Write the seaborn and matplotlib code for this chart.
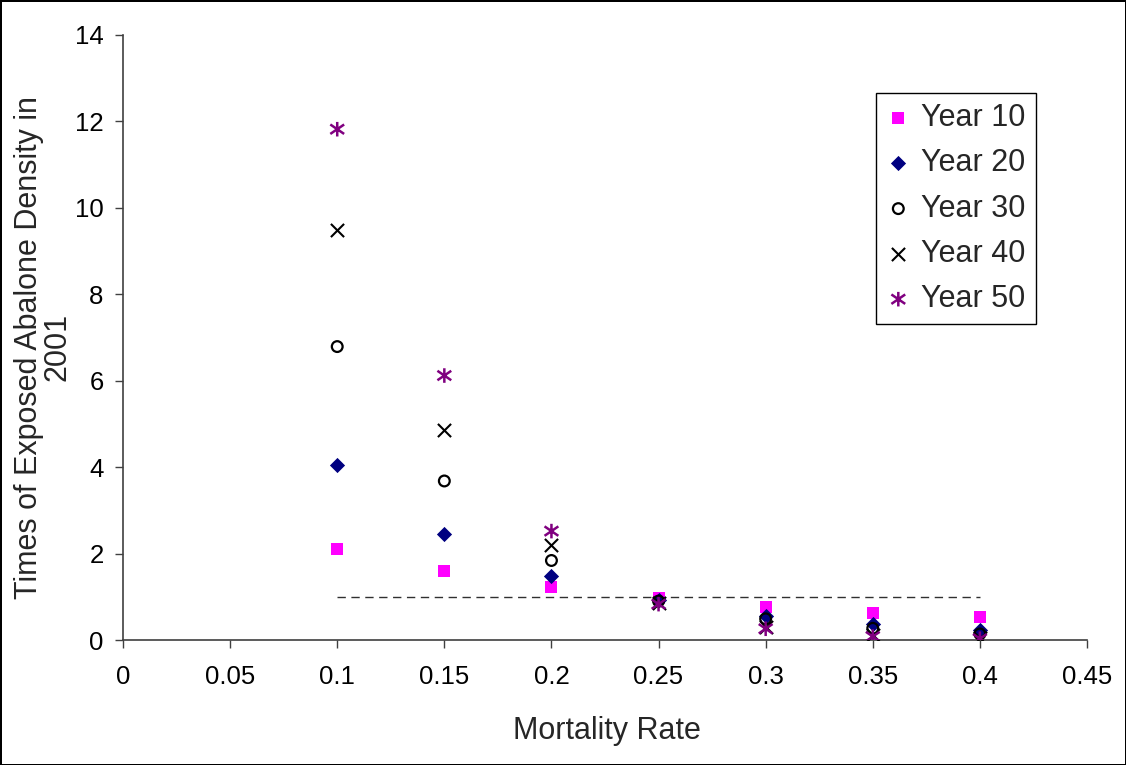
import matplotlib
matplotlib.use("Agg")
import matplotlib.pyplot as plt
from matplotlib.path import Path
import seaborn as sns

# Mortality rates on the x axis
mortality = [0.1, 0.15, 0.2, 0.25, 0.3, 0.35, 0.4]

# Times of exposed abalone density relative to 2001, per projection year
year10 = [2.11, 1.60, 1.23, 0.97, 0.76, 0.62, 0.53]
year20 = [4.04, 2.45, 1.49, 0.92, 0.56, 0.38, 0.23]
year30 = [6.79, 3.68, 1.84, 0.90, 0.49, 0.27, 0.14]
year40 = [9.49, 4.87, 2.19, 0.86, 0.30, 0.11, 0.05]
year50 = [11.82, 6.12, 2.52, 0.83, 0.26, 0.08, 0.03]
series_labels = ["Year 10", "Year 20", "Year 30", "Year 40", "Year 50"]

# Reference level (density equal to 2001)
threshold_x = [0.1, 0.4]
threshold_y = [1.0, 1.0]

x_ticks = [0, 0.05, 0.1, 0.15, 0.2, 0.25, 0.3, 0.35, 0.4, 0.45]
x_tick_labels = ["0", "0.05", "0.1", "0.15", "0.2", "0.25", "0.3", "0.35", "0.4", "0.45"]
y_ticks = [0, 2, 4, 6, 8, 10, 12, 14]

sns.set_style("ticks")
plt.rcParams["font.family"] = ["Liberation Sans", "DejaVu Sans"]

fig = plt.figure(figsize=(11.26, 7.65), dpi=100)
fig.patch.set_facecolor("white")
fig.patch.set_edgecolor("black")
fig.patch.set_linewidth(2)
ax = fig.add_axes([123 / 1126, 1 - 640 / 765, (1087 - 123) / 1126, (640 - 35) / 765])

# asterisk marker: vertical bar plus two diagonals
star_path = Path(
    [(0, -1), (0, 1), (-0.95, -0.65), (0.95, 0.65), (-0.95, 0.65), (0.95, -0.65)],
    [Path.MOVETO, Path.LINETO, Path.MOVETO, Path.LINETO, Path.MOVETO, Path.LINETO],
)

sns.lineplot(x=threshold_x, y=threshold_y, ax=ax, color="#303030", linewidth=1.0,
             linestyle=(0, (6, 4)), legend=False)

sns.scatterplot(x=mortality, y=year10, ax=ax, marker="s", s=85, color="#FF00FF",
                edgecolor="#FF00FF", linewidth=0, label=series_labels[0], zorder=3)
sns.scatterplot(x=mortality, y=year20, ax=ax, marker="D", s=60, color="#000080",
                edgecolor="#000080", linewidth=0, label=series_labels[1], zorder=3)
sns.scatterplot(x=mortality, y=year30, ax=ax, marker="o", s=60, color="black",
                facecolor="none", edgecolor="black", linewidth=1.6,
                label=series_labels[2], zorder=3)
sns.scatterplot(x=mortality, y=year40, ax=ax, marker="x", s=90, color="black",
                linewidth=1.5, label=series_labels[3], zorder=3)
sns.scatterplot(x=mortality, y=year50, ax=ax, marker=star_path, s=110, color="#800080",
                facecolor="none", edgecolor="#800080", linewidth=1.8,
                label=series_labels[4], zorder=3)

ax.set_xlim(0, 0.45)
ax.set_ylim(0, 14)
ax.set_xticks(x_ticks)
ax.set_xticklabels(x_tick_labels)
ax.set_yticks(y_ticks)
ax.tick_params(axis="both", labelsize=18.5, direction="out", length=6, width=1,
               color="#404040", labelcolor="black")
ax.tick_params(axis="x", pad=12)
ax.tick_params(axis="y", pad=8)

sns.despine(ax=ax, top=True, right=True)
for side in ("left", "bottom"):
    ax.spines[side].set_color("#404040")
    ax.spines[side].set_linewidth(1.2)

ax.set_xlabel("Mortality Rate", fontsize=22)
ax.set_ylabel("Times of Exposed Abalone Density in\n2001", fontsize=22,
              multialignment="center", linespacing=0.95)
ax.xaxis.set_label_coords(0.502, -0.126)
ax.yaxis.set_label_coords(-0.052, 0.484)

handles, labels = ax.get_legend_handles_labels()
leg = ax.legend(handles, labels, loc="upper left",
                bbox_to_anchor=(876 / 1126, 1 - 93 / 765), bbox_transform=fig.transFigure,
                borderaxespad=0, fontsize=22, frameon=True, fancybox=False,
                framealpha=1, edgecolor="black", handlelength=0.8,
                handletextpad=0.35, labelspacing=0.5, borderpad=0.33,
                markerscale=1.0)
leg.get_frame().set_linewidth(1.0)

fig.savefig("out.png", dpi=100, facecolor="white", edgecolor="black")
